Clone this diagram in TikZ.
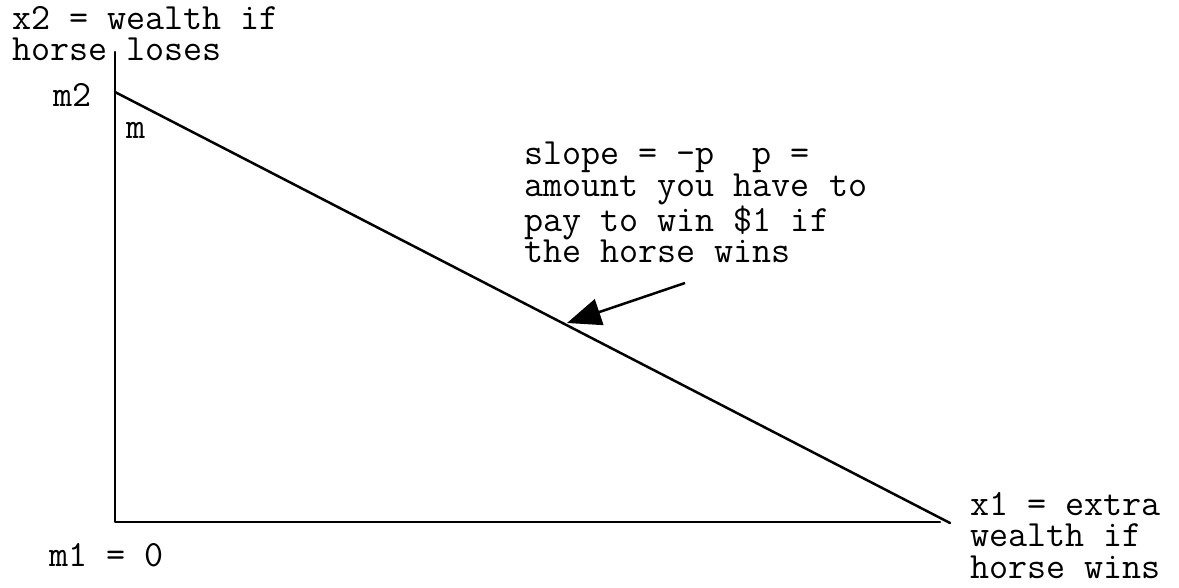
\documentclass[tikz,border=0pt]{standalone}
\usetikzlibrary{arrows.meta}
\begin{document}
\begin{tikzpicture}[x=1pt,y=-1pt,
  lbl/.style={inner sep=0pt,anchor=base west,align=left,font=\ttfamily\fontsize{37}{31.5}\selectfont},
  axis/.style={line width=2.5pt,line cap=round,line join=round},
  pointer/.style={line width=2.5pt,-{Triangle[length=34pt,width=27pt]}}]
\useasboundingbox (0,0) rectangle (1179,588);
\coordinate (ytop) at (115,52);
\coordinate (orig) at (115,522);
\coordinate (xend) at (940,522);
\coordinate (m2pt) at (115,92);
\coordinate (bend) at (950,523);
\coordinate (astart) at (685,283);
\coordinate (atip) at (567,323);
\draw[axis] (ytop) -- (orig) -- (xend);
\draw[axis] (m2pt) -- (bend);
\draw[pointer] (astart) -- (atip);
\node[lbl] (ylab) at (12,61) {x2 = wealth if\\horse loses};
\node[lbl] (m2) at (53,107) {m2};
\node[lbl] (m) at (126,139) {m};
\node[lbl] (slope) at (524,263) {slope = -p~~p =\\amount you have to\\pay to win \$1 if\\the horse wins};
\node[lbl] (m1) at (49,566) {m1 = 0};
\node[lbl] (xlab) at (970,578) {x1 = extra\\wealth if\\horse wins};
\end{tikzpicture}
\end{document}
